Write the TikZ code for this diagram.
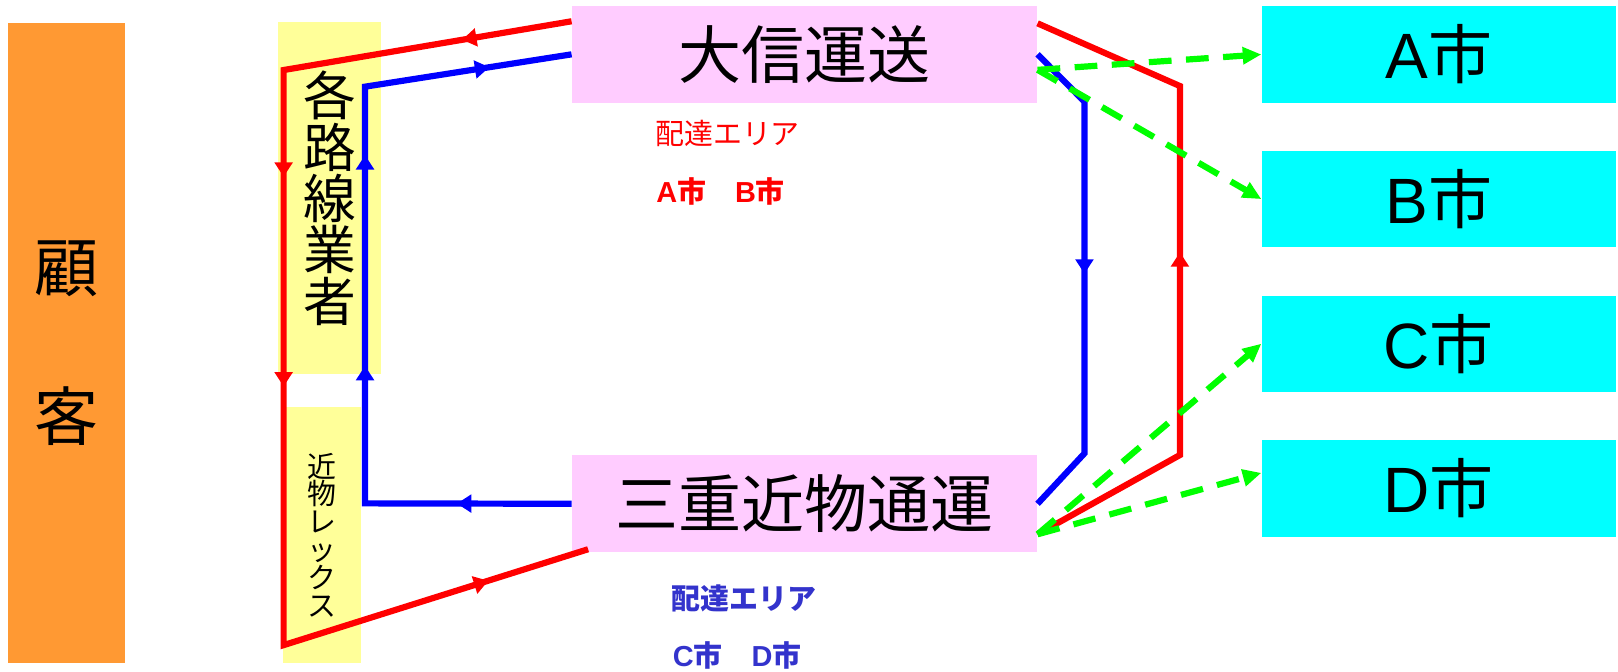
\documentclass[tikz,border=0pt]{standalone}
\usepackage{fontspec}
\setmainfont{Liberation Sans}
\newfontfamily\jp{Noto Sans CJK JP}
\usetikzlibrary{arrows.meta,decorations.markings,positioning}
\definecolor{kyakuor}{HTML}{FF9933}
\definecolor{gyoye}{HTML}{FFFF99}
\definecolor{unsopk}{HTML}{FFCCFF}
\definecolor{shicy}{HTML}{00FFFF}
\definecolor{haiblue}{HTML}{3333CC}
\definecolor{haigreen}{HTML}{00FF00}
\tikzstyle{caja}=[rectangle,inner sep=0pt,align=center]
\tikzstyle{kyaku}=[caja,fill=kyakuor,minimum width=113,minimum height=620,font=\jp\fontsize{62}{144}\selectfont]
\tikzstyle{gyosha}=[caja,fill=gyoye]
\tikzstyle{unso}=[caja,fill=unsopk,minimum width=450.6,minimum height=93.6,font=\jp\fontsize{61}{73}\selectfont]
\tikzstyle{shi}=[caja,fill=shicy,minimum width=343,minimum height=93.2,font=\fontsize{62}{74}\selectfont]
\tikzstyle{area}=[anchor=west,inner sep=0pt]
\tikzstyle{rojo}=[draw=red,line width=6pt]
\tikzstyle{azul}=[draw=blue,line width=6pt]
\tikzstyle{verde}=[draw=haigreen,line width=6pt,dash pattern=on 22pt off 14pt,-{Triangle[length=18pt,width=16pt]}]
\tikzset{flecha/.style={postaction={decorate,decoration={markings,mark=at position #1 with {\arrow{Triangle[length=14pt,width=17pt]}}}}}}

\begin{document}
\begin{tikzpicture}[x=1pt,y=1pt]
	\useasboundingbox (0,0) rectangle (1566,650);
	\node[kyaku]	(kokyaku)	at (64.5,318)	{顧\\客};
	\node[gyosha,minimum width=100,minimum height=340.8,font=\jp\fontsize{51}{49.7}\selectfont]
			(rosen)	at (318.8,458)	{各\\路\\線\\業\\者};
	\node[gyosha,minimum width=75.5,minimum height=248.3,font=\jp\fontsize{28}{27}\selectfont]
			(kbx)	at (311.8,132.1)	{近\\物\\レ\\ッ\\ク\\ス};
	\node[unso]	(taishin)	at (778.7,597.4)	{大信運送};
	\node[unso]	(mie)	[below=341 of taishin]	{三重近物通運};
	\node[shi]	(cityA)	at (1392.5,597.3)	{A{\jp 市}};
	\node[shi]	(cityB)	[below=46.4 of cityA]	{B{\jp 市}};
	\node[shi]	(cityC)	[below=46.4 of cityB]	{C{\jp 市}};
	\node[shi]	(cityD)	[below=46.4 of cityC]	{D{\jp 市}};
	\node[area,text=red,font=\jp\fontsize{28}{34}\selectfont]
			(areaTS)	at (634,520.6)	{配達エリア};
	\node[area,text=red,font=\bfseries\fontsize{28}{34}\selectfont]
			(shiTS)	at (635,464.5)	{A{\jp 市　}B{\jp 市}};
	\node[area,text=haiblue,font=\jp\bfseries\fontsize{28}{34}\selectfont]
			(areaMK)	at (650,71)	{配達エリア};
	\node[area,text=haiblue,font=\bfseries\fontsize{28}{34}\selectfont]
			(shiMK)	at (651,16)	{C{\jp 市　}D{\jp 市}};

	% esquinas
	\coordinate (rtl) at (274.5,582.2);
	\coordinate (rbl) at (274.5,25.6);
	\coordinate (btl) at (353.3,566.1);
	\coordinate (bbl) at (353.3,162.8);
	\coordinate (brt) at (1049.6,551.6);
	\coordinate (brb) at (1049.6,211.2);
	\coordinate (rrb) at (1142,209.6);
	\coordinate (rrt) at (1142,566.7);

	\draw[rojo,flecha=107.5pt,flecha=386pt,flecha=589pt,flecha=1047pt]
		([yshift=-15pt]taishin.north west) -- (rtl) -- (rbl) -- ([xshift=16pt,yshift=3pt]mie.south west);
	\draw[azul,flecha=111pt,flecha=333pt,flecha=537pt,flecha=725pt]
		(mie.west) -- (bbl) -- (btl) -- (taishin.west);
	\draw[azul,flecha=231pt]	(taishin.east) -- (brt) -- (brb) -- (mie.east);
	\draw[rojo,flecha=354pt]	([yshift=17.5pt]mie.south east) -- (rrb) -- (rrt) -- ([yshift=-17pt]taishin.north east);

	\draw[verde]	([yshift=-15pt]taishin.east) -- (cityA.west);
	\draw[verde]	([yshift=-15pt]taishin.east) -- (cityB.west);
	\draw[verde]	([yshift=17.5pt]mie.south east) -- (cityC.west);
	\draw[verde]	([yshift=17.5pt]mie.south east) -- ([yshift=15pt]cityD.west);
\end{tikzpicture}
\end{document}
